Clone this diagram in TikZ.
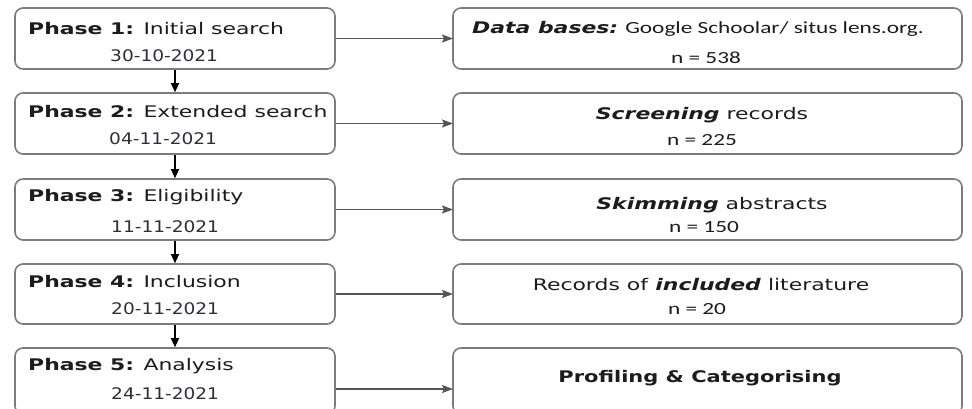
\documentclass[tikz,border=0pt]{standalone}
\usepackage{graphicx}
\usepackage{fontspec}
\setmainfont{DejaVu Sans}
\newfontfamily\calfont{Carlito}
\usetikzlibrary{arrows.meta}
\definecolor{boxgray}{HTML}{7C7C7C}
\definecolor{txtc}{HTML}{1C1C1C}
\definecolor{datec}{HTML}{2E2E38}
\definecolor{arrgray}{HTML}{555555}
\newcommand\fsz[1]{\fontsize{#1}{#1}\selectfont}
\newcommand\sxb[2]{\scalebox{#1}[1]{#2}}
\tikzset{
  box/.style={draw=boxgray, line width=1.6pt, rounded corners=8pt, fill=white},
  lbox/.style={box, minimum width=320pt},
  rbox/.style={box, minimum width=509pt},
  txt/.style={inner sep=0pt, text=txtc},
  datetxt/.style={inner sep=0pt, text=datec, anchor=west},
  phasetxt/.style={inner sep=0pt, text=txtc, anchor=west},
  varrow/.style={draw=black, line width=1.2pt, -{Triangle[length=9pt,width=8pt]}},
  harrow/.style={draw=arrgray, line width=1.3pt, -{Stealth[length=11pt,width=8pt,inset=2pt]}, shorten >=-0.8pt}
}
\begin{document}
\begin{tikzpicture}[x=1pt,y=-1pt]
\useasboundingbox (0,0) rectangle (972,408);
% left boxes
\node[lbox, minimum height=61pt] (l1) at (175,38.5) {};
\node[lbox, minimum height=61pt] (l2) at (175,123.5) {};
\node[lbox, minimum height=61pt] (l3) at (175,209.5) {};
\node[lbox, minimum height=60pt] (l4) at (175,294) {};
\node[lbox, minimum height=66pt] (l5) at (175,381) {};
% right boxes
\node[rbox, minimum height=61pt] (r1) at (707.5,38.5) {};
\node[rbox, minimum height=61pt] (r2) at (707.5,123.5) {};
\node[rbox, minimum height=61pt] (r3) at (707.5,209.5) {};
\node[rbox, minimum height=60pt] (r4) at (707.5,294) {};
\node[rbox, minimum height=66pt] (r5) at (707.5,381) {};
% left texts
\node[phasetxt] (p1) at (28,29) {\sxb{1.37}{\fsz{16}\textbf{Phase 1:} Initial search}};
\node[datetxt] (d1) at (110,56) {\sxb{1.16}{\fsz{16}30-10-2021}};
\node[phasetxt] (p2) at (28,112) {\sxb{1.37}{\fsz{16}\textbf{Phase 2:} Extended search}};
\node[datetxt] (d2) at (109,139) {\sxb{1.16}{\fsz{16}04-11-2021}};
\node[phasetxt] (p3) at (28,197) {\sxb{1.37}{\fsz{16}\textbf{Phase 3:} Eligibility}};
\node[datetxt] (d3) at (111,227) {\sxb{1.16}{\fsz{16}11-11-2021}};
\node[phasetxt] (p4) at (28,282) {\sxb{1.37}{\fsz{16}\textbf{Phase 4:} Inclusion}};
\node[datetxt] (d4) at (111,309) {\sxb{1.16}{\fsz{16}20-11-2021}};
\node[phasetxt] (p5) at (28,366) {\sxb{1.37}{\fsz{16}\textbf{Phase 5:} Analysis}};
\node[datetxt] (d5) at (111,394) {\sxb{1.16}{\fsz{16}24-11-2021}};
% right texts
\node[txt] (t1) at (698,29) {\sxb{1.37}{\fsz{16}\textbf{\textit{Data bases:}}\calfont\fsz{17} Google Schoolar/ situs lens.org.}};
\node[txt] (n1) at (706,58) {\sxb{1.37}{\calfont\fsz{17}n = 538}};
\node[txt] (t2) at (702,115) {\sxb{1.37}{\fsz{16}\textbf{\textit{Screening}} records}};
\node[txt] (n2) at (702,140) {\sxb{1.37}{\calfont\fsz{17}n = 225}};
\node[txt] (t3) at (712,205) {\sxb{1.37}{\fsz{16}\textbf{\textit{Skimming}} abstracts}};
\node[txt] (n3) at (704,227) {\sxb{1.37}{\calfont\fsz{17}n = 150}};
\node[txt] (t4) at (701,285) {\sxb{1.37}{\fsz{16}Records of \textbf{\textit{included}} literature}};
\node[txt] (n4) at (697,309) {\sxb{1.37}{\calfont\fsz{17}n = 20}};
\node[txt] (t5) at (700,378) {\sxb{1.31}{\fsz{16}\textbf{Profiling \& Categorising}}};
% vertical arrows
\draw[varrow] (l1.south) -- (l2.north);
\draw[varrow] (l2.south) -- (l3.north);
\draw[varrow] (l3.south) -- (l4.north);
\draw[varrow] (l4.south) -- (l5.north);
% horizontal arrows
\draw[harrow] (l1.east) -- (r1.west);
\draw[harrow] (l2.east) -- (r2.west);
\draw[harrow] (l3.east) -- (r3.west);
\draw[harrow] (l4.east) -- (r4.west);
\draw[harrow] ([yshift=-8pt]l5.east) -- ([yshift=-8pt]r5.west);
\end{tikzpicture}
\end{document}
